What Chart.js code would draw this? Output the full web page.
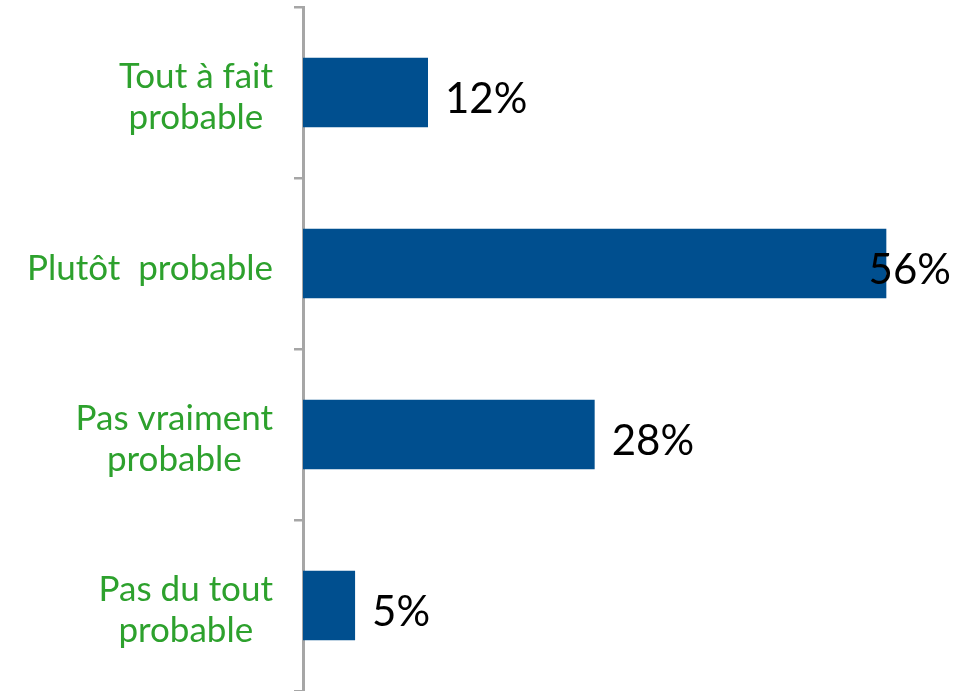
<!DOCTYPE html>
<html>
<head>
<meta charset="utf-8">
<script src="https://cdn.jsdelivr.net/npm/chart.js@4/dist/chart.umd.min.js"></script>
<style>
  html, body { margin: 0; padding: 0; background: #fff; }
  #wrap { width: 972px; height: 691px; }
</style>
</head>
<body>
<div id="wrap"><canvas id="chart"></canvas></div>
<script>
const categories = [
  ['Tout à fait', 'probable'],
  ['Plutôt  probable'],
  ['Pas vraiment', 'probable'],
  ['Pas du tout', 'probable'],
];
const values = [12, 56, 28, 5];
const valueLabels = ['12%', '56%', '28%', '5%'];

const axisGrey = '#A6A6A6';
const barBlue = '#004F8F';
const labelGreen = '#2DA12D';

// category labels: each one centered on its own widest line, right edge at a fixed x
// values: just past the bar end, pulled back inside the canvas when they would run off
const textPlugin = {
  id: 'textPlugin',
  afterDraw(chart) {
    const ctx = chart.ctx;
    const yScale = chart.scales.y;
    ctx.save();
    ctx.font = '35px Lato';
    ctx.fillStyle = labelGreen;
    ctx.textAlign = 'center';
    ctx.textBaseline = 'alphabetic';
    const labelRight = 273;
    const lineH = 41;
    categories.forEach((lines, i) => {
      const cy = yScale.getPixelForValue(i);
      const widest = Math.max(...lines.map(l => ctx.measureText(l).width));
      const cx = labelRight - widest / 2;
      lines.forEach((l, j) => {
        ctx.fillText(l, cx, cy + 16 + (j - (lines.length - 1) / 2) * lineH);
      });
    });

    ctx.font = '42px Lato';
    ctx.fillStyle = '#000';
    ctx.textAlign = 'left';
    const meta = chart.getDatasetMeta(0);
    meta.data.forEach((bar, i) => {
      const w = ctx.measureText(valueLabels[i]).width;
      const x = Math.min(bar.x + 17, chart.width - 21 - w);
      ctx.fillText(valueLabels[i], x, bar.y + 20.5);
    });
    ctx.restore();
  }
};

new Chart('chart', {
  type: 'bar',
  data: {
    labels: categories.map(c => c.join(' ')),
    datasets: [{
      data: values,
      backgroundColor: barBlue,
      borderWidth: 0,
      barPercentage: 0.405,
      categoryPercentage: 1,
    }]
  },
  options: {
    indexAxis: 'y',
    responsive: true,
    maintainAspectRatio: false,
    animation: false,
    layout: { padding: { top: 7, right: 44, bottom: 0, left: 0 } },
    plugins: {
      legend: { display: false },
      tooltip: { enabled: false },
    },
    scales: {
      x: {
        display: false,
        min: 0,
        max: 60,
      },
      y: {
        afterFit(scale) { scale.width = 303; },
        ticks: { display: false },
        grid: {
          drawOnChartArea: false,
          offset: true,
          color: axisGrey,
          lineWidth: 2.5,
          tickLength: 9,
        },
        border: { display: true, color: axisGrey, width: 3 },
      }
    }
  },
  plugins: [textPlugin]
});
</script>
</body>
</html>
